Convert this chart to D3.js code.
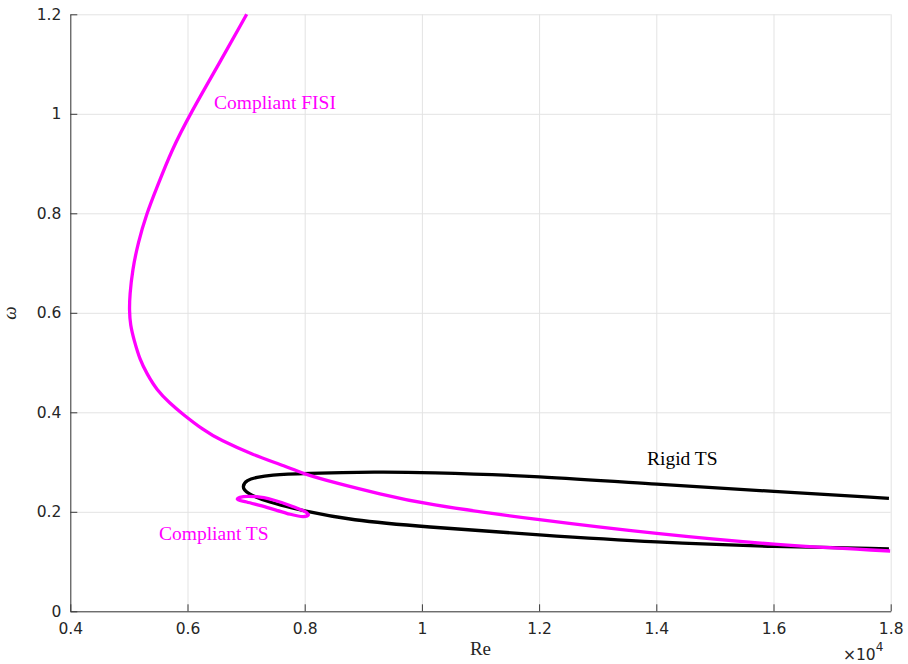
<!DOCTYPE html>
<html>
<head>
<meta charset="utf-8">
<script src="https://cdn.jsdelivr.net/npm/d3@7"></script>
<style>
  body { margin: 0; background: #fff; }
  svg { display: block; }
</style>
</head>
<body>
<svg id="chart" width="908" height="664"></svg>
<script>
// tick values and labels (Re is in units of 10^4)
var xTicks = [0.4, 0.6, 0.8, 1.0, 1.2, 1.4, 1.6, 1.8];
var xTickLabels = ["0.4", "0.6", "0.8", "1", "1.2", "1.4", "1.6", "1.8"];
var yTicks = [0, 0.2, 0.4, 0.6, 0.8, 1.0, 1.2];
var yTickLabels = ["0", "0.2", "0.4", "0.6", "0.8", "1", "1.2"];

// Compliant FISI branch [Re/1e4, omega]
var fisiRe    = [0.7010, 0.6555, 0.6051, 0.5730, 0.5474, 0.5304, 0.5155, 0.5061, 0.5015, 0.5007, 0.5024, 0.5087, 0.5189, 0.5304, 0.5474, 0.5701, 0.5901, 0.6270, 0.6555, 0.7123, 0.7693, 0.7949, 0.8546, 0.9285, 1.0014, 1.2003, 1.4007, 1.6014, 1.799];
var fisiOmega = [1.2000, 1.1041, 1.0010, 0.9272, 0.8508, 0.8000, 0.7403, 0.6860, 0.6358, 0.6056, 0.5755, 0.5453, 0.5051, 0.4784, 0.4448, 0.4181, 0.3980, 0.3644, 0.3443, 0.3142, 0.2907, 0.2774, 0.2573, 0.2358, 0.2157, 0.1835, 0.1555, 0.1333, 0.1212];

// Rigid TS neutral curve (upper branch from right, nose, lower branch to right)
var rigidRe    = [1.797, 1.6015, 1.401, 1.2005, 1.0015, 0.9285, 0.7949, 0.7408, 0.7181, 0.7010, 0.6925, 0.701, 0.735, 0.8035, 0.8774, 1.0015, 1.2005, 1.401, 1.6015, 1.797];
var rigidOmega = [0.2271, 0.2410, 0.2550, 0.2720, 0.2794, 0.2806, 0.2774, 0.2740, 0.2693, 0.2639, 0.2505, 0.2372, 0.2203, 0.2002, 0.1835, 0.1700, 0.1534, 0.1385, 0.1298, 0.1256];

// Compliant TS closed loop
var ctsRe    = [0.685, 0.6896, 0.7181, 0.7465, 0.7806, 0.8035, 0.8062, 0.7977, 0.7693, 0.7352, 0.7010];
var ctsOmega = [0.2251, 0.2291, 0.2303, 0.2237, 0.2103, 0.1982, 0.1936, 0.1902, 0.1970, 0.2090, 0.2197];

function zipPts(a, b) {
    return a.map(function (v, i) { return [v, b[i]]; });
}

var svg = d3.select("#chart"),
    margin = {top: 14.3, right: 17.3, bottom: 52.7, left: 70.3},
    width = +svg.attr("width") - margin.left - margin.right,
    height = +svg.attr("height") - margin.top - margin.bottom,
    g = svg.append("g").attr("transform", "translate(" + margin.left + "," + margin.top + ")");

var x = d3.scaleLinear().domain([0.4, 1.8]).range([0, width]);
var y = d3.scaleLinear().domain([0, 1.2]).range([height, 0]);

var tickFont = "'DejaVu Sans', sans-serif";
var serif = "'Liberation Serif', 'Times New Roman', serif";
var axisColor = "#3a3a3a";

// grid
g.append("g")
    .attr("transform", "translate(0," + height + ")")
    .call(d3.axisBottom(x).tickValues(xTicks).tickSize(-height).tickFormat(""))
    .call(function (s) {
        s.select(".domain").remove();
        s.selectAll("line").attr("stroke", "#e3e3e3");
    });
g.append("g")
    .call(d3.axisLeft(y).tickValues(yTicks).tickSize(-width).tickFormat(""))
    .call(function (s) {
        s.select(".domain").remove();
        s.selectAll("line").attr("stroke", "#e3e3e3");
    });

// curves
g.append("clipPath").attr("id", "clip")
    .append("rect").attr("x", -2).attr("y", -2).attr("width", width + 4).attr("height", height + 4);

var plot = g.append("g").attr("clip-path", "url(#clip)");

// b-spline smooths out reading noise in the traced points
var line = d3.line()
    .x(function (d) { return x(d[0]); })
    .y(function (d) { return y(d[1]); })
    .curve(d3.curveBasis);

var loop = d3.line()
    .x(function (d) { return x(d[0]); })
    .y(function (d) { return y(d[1]); })
    .curve(d3.curveCatmullRomClosed.alpha(0.5));

plot.append("path")
    .datum(zipPts(rigidRe, rigidOmega))
    .attr("fill", "none")
    .attr("stroke", "#000")
    .attr("stroke-width", 3.3)
    .attr("stroke-linejoin", "round")
    .attr("d", line);

plot.append("path")
    .datum(zipPts(fisiRe, fisiOmega))
    .attr("fill", "none")
    .attr("stroke", "#ff00ff")
    .attr("stroke-width", 3.3)
    .attr("stroke-linejoin", "round")
    .attr("d", line);

plot.append("path")
    .datum(zipPts(ctsRe, ctsOmega))
    .attr("fill", "none")
    .attr("stroke", "#ff00ff")
    .attr("stroke-width", 3.3)
    .attr("stroke-linejoin", "round")
    .attr("d", loop);

// axes (ticks point inward, like matlab)
var xAxis = g.append("g")
    .attr("transform", "translate(0," + height + ")")
    .call(d3.axisBottom(x).tickValues(xTicks).tickSizeInner(-7).tickSizeOuter(0).tickPadding(12)
        .tickFormat(function (d, i) { return xTickLabels[i]; }));

var yAxis = g.append("g")
    .call(d3.axisLeft(y).tickValues(yTicks).tickSizeInner(-7).tickSizeOuter(0).tickPadding(9)
        .tickFormat(function (d, i) { return yTickLabels[i]; }));

[xAxis, yAxis].forEach(function (a) {
    a.select(".domain").attr("stroke", axisColor);
    a.selectAll(".tick line").attr("stroke", axisColor);
    a.selectAll(".tick text")
        .attr("fill", "#262626")
        .style("font-family", tickFont)
        .style("font-size", "15.5px");
});

// exponent label
var expo = svg.append("text")
    .attr("x", 843)
    .attr("y", 660)
    .attr("fill", "#262626")
    .style("font-family", tickFont)
    .style("font-size", "15.5px");
expo.append("tspan").text("\u00d710");
expo.append("tspan").attr("dy", -9).style("font-size", "12px").text("4");

// axis labels
svg.append("text")
    .attr("x", margin.left + width / 2)
    .attr("y", 655)
    .attr("text-anchor", "middle")
    .attr("fill", "#262626")
    .style("font-family", serif)
    .style("font-size", "19px")
    .text("Re");

svg.append("text")
    .attr("transform", "translate(16,313) rotate(-90)")
    .attr("text-anchor", "middle")
    .attr("fill", "#262626")
    .style("font-family", serif)
    .style("font-size", "19px")
    .style("font-style", "italic")
    .text("\u03c9");

// annotations
g.append("text")
    .attr("x", 214 - margin.left)
    .attr("y", 109 - margin.top)
    .attr("fill", "#ff00ff")
    .style("font-family", serif)
    .style("font-size", "19.5px")
    .text("Compliant FISI");

g.append("text")
    .attr("x", 647 - margin.left)
    .attr("y", 465.5 - margin.top)
    .attr("fill", "#000")
    .style("font-family", serif)
    .style("font-size", "19.5px")
    .text("Rigid TS");

g.append("text")
    .attr("x", 159 - margin.left)
    .attr("y", 540 - margin.top)
    .attr("fill", "#ff00ff")
    .style("font-family", serif)
    .style("font-size", "19.5px")
    .text("Compliant TS");
</script>
</body>
</html>
